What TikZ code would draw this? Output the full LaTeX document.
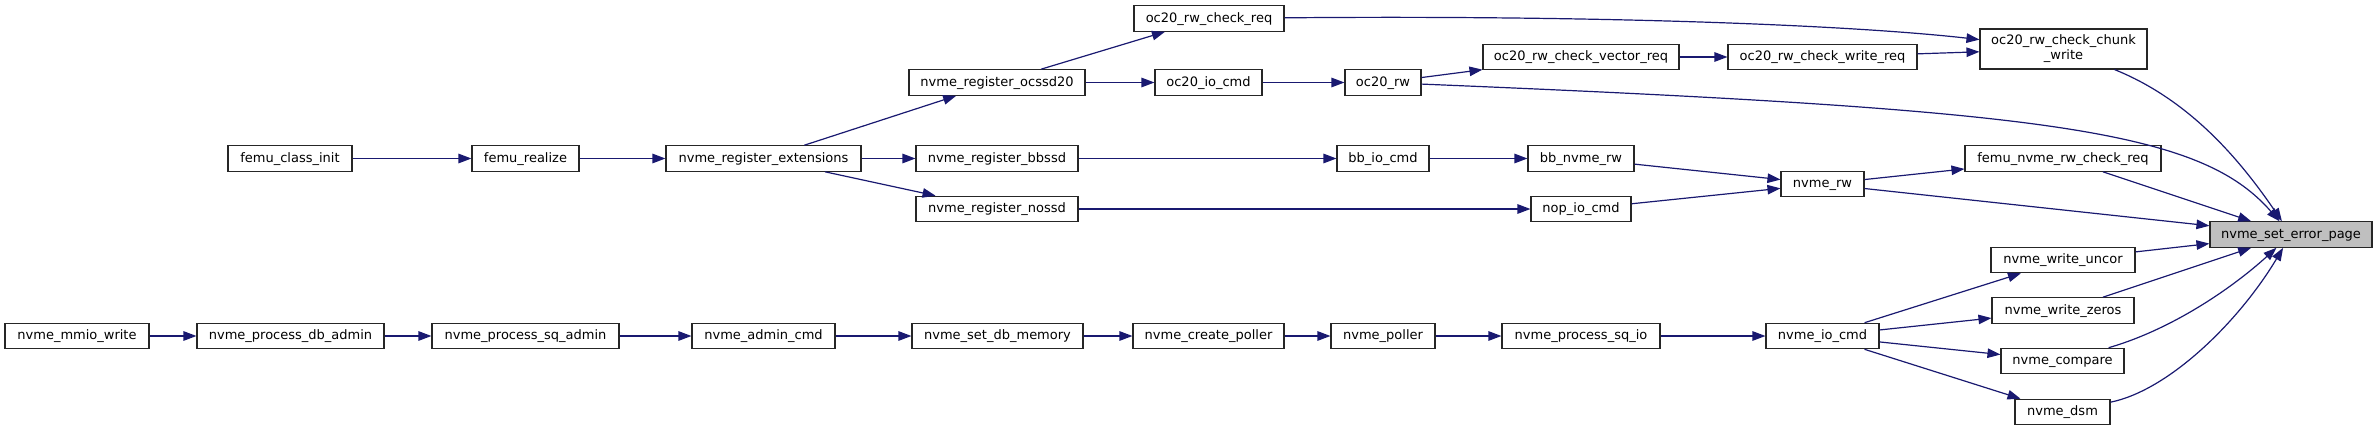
\documentclass[tikz,border=0pt]{standalone}
\usepackage{fontspec}
\setmainfont{DejaVu Sans}
\usetikzlibrary{arrows.meta}
\definecolor{edgeblue}{HTML}{191970}
\definecolor{rootgray}{HTML}{BFBFBF}

\begin{document}
\begin{tikzpicture}[x=1pt, y=-1pt,  % pixel units, y downwards
  font=\fontsize{13}{15}\selectfont,
  frame/.style={draw=black!85, line width=1.1pt, fill=white, align=center,
                inner sep=2pt, minimum height=25.5pt},
  box/.style={frame, text height=10pt, text depth=3pt},
  root/.style={box, fill=rootgray},
  arrow/.style={-{Triangle[length=13pt, width=9.5pt]}, line width=1.2pt, draw=edgeblue}
]
\useasboundingbox (0,0) rectangle (2377,431);

% --- Nodes (upper part) ---
\node[box, minimum width=124pt] (classinit) at (290,158.5)   {femu\_class\_init};
\node[box, minimum width=107pt] (realize)   at (525.5,158.5) {femu\_realize};
\node[box, minimum width=195pt] (regext)    at (763.5,158.5) {nvme\_register\_extensions};
\node[box, minimum width=176pt] (ocssd)     at (997,82.5)    {nvme\_register\_ocssd20};
\node[box, minimum width=162pt] (bbssd)     at (997,158.5)   {nvme\_register\_bbssd};
\node[box, minimum width=162pt] (nossd)     at (997,209)     {nvme\_register\_nossd};
\node[box, minimum width=150pt] (chkreq)    at (1209,18.5)   {oc20\_rw\_check\_req};
\node[box, minimum width=107pt] (iocmd)     at (1208.5,82.5) {oc20\_io\_cmd};
\node[box, minimum width=76pt]  (ocrw)      at (1383,82.5)   {oc20\_rw};
\node[box, minimum width=92pt]  (bbio)      at (1383,158.5)  {bb\_io\_cmd};
\node[box, minimum width=196pt] (vecreq)    at (1581,57)     {oc20\_rw\_check\_vector\_req};
\node[box, minimum width=106pt] (bbrw)      at (1581,158.5)  {bb\_nvme\_rw};
\node[box, minimum width=100pt] (nopio)     at (1581,209)    {nop\_io\_cmd};
\node[box, minimum width=189pt] (wrreq)     at (1822.5,57)   {oc20\_rw\_check\_write\_req};
\node[box, minimum width=83pt]  (nvmerw)    at (1822.5,184)  {nvme\_rw};
\node[frame, minimum width=167pt, minimum height=40pt] (chunk) at (2063.5,49) {oc20\_rw\_check\_chunk\\\_write};
\node[box, minimum width=196pt] (femuchk)   at (2063,158.5)  {femu\_nvme\_rw\_check\_req};
\node[box, minimum width=144pt] (uncor)     at (2063,260)    {nvme\_write\_uncor};
\node[box, minimum width=142pt] (zeros)     at (2063,310.5)  {nvme\_write\_zeros};
\node[box, minimum width=123pt] (compare)   at (2062.5,361)  {nvme\_compare};
\node[box, minimum width=95pt]  (dsm)       at (2062.5,412)  {nvme\_dsm};
\node[root, minimum width=162pt] (errpage)  at (2291,234.5)  {nvme\_set\_error\_page};

% --- Nodes (bottom row) ---
\node[box, minimum width=144pt] (mmio)      at (77,336)      {nvme\_mmio\_write};
\node[box, minimum width=187pt] (dbadmin)   at (290.5,336)   {nvme\_process\_db\_admin};
\node[box, minimum width=187pt] (sqadmin)   at (525.5,336)   {nvme\_process\_sq\_admin};
\node[box, minimum width=143pt] (admincmd)  at (763.5,336)   {nvme\_admin\_cmd};
\node[box, minimum width=171pt] (dbmem)     at (997.5,336)   {nvme\_set\_db\_memory};
\node[box, minimum width=151pt] (mkpoller)  at (1208.5,336)  {nvme\_create\_poller};
\node[box, minimum width=104pt] (poller)    at (1383,336)    {nvme\_poller};
\node[box, minimum width=158pt] (sqio)      at (1581,336)    {nvme\_process\_sq\_io};
\node[box, minimum width=113pt] (nvmeio)    at (1822.5,336)  {nvme\_io\_cmd};

% --- Calls (upper part) ---
\draw[arrow] (classinit) -- (realize);
\draw[arrow] (realize) -- (regext);
\draw[arrow] (regext) -- (ocssd);
\draw[arrow] (regext) -- (bbssd);
\draw[arrow] (regext) -- (nossd);
\draw[arrow] (ocssd) -- (chkreq);
\draw[arrow] (ocssd) -- (iocmd);
\draw[arrow] (iocmd) -- (ocrw);
\draw[arrow] (ocrw) -- (vecreq);
\draw[arrow] (vecreq) -- (wrreq);
\draw[arrow] (wrreq) -- (chunk);
\draw[arrow] (chkreq) .. controls (1600,15) and (1850,25) .. (chunk);
\draw[arrow] (bbssd) -- (bbio);
\draw[arrow] (bbio) -- (bbrw);
\draw[arrow] (bbrw) -- (nvmerw);
\draw[arrow] (nossd) -- (nopio);
\draw[arrow] (nopio) -- (nvmerw);
\draw[arrow] (nvmerw) -- (femuchk);

% --- Calls into nvme_set_error_page ---
\draw[arrow] (chunk) .. controls (2190,100) and (2240,160) .. (errpage);
\draw[arrow] (ocrw) .. controls (2050,110) and (2200,130) .. (errpage);
\draw[arrow] (femuchk) -- (errpage);
\draw[arrow] (nvmerw) -- (errpage);
\draw[arrow] (uncor) -- (errpage);
\draw[arrow] (zeros) -- (errpage);
\draw[arrow] (compare) .. controls (2170,330) and (2230,290) .. (errpage);
\draw[arrow] (dsm) .. controls (2170,390) and (2240,320) .. (errpage);

% --- Calls (bottom row) ---
\draw[arrow] (mmio) -- (dbadmin);
\draw[arrow] (dbadmin) -- (sqadmin);
\draw[arrow] (sqadmin) -- (admincmd);
\draw[arrow] (admincmd) -- (dbmem);
\draw[arrow] (dbmem) -- (mkpoller);
\draw[arrow] (mkpoller) -- (poller);
\draw[arrow] (poller) -- (sqio);
\draw[arrow] (sqio) -- (nvmeio);
\draw[arrow] (nvmeio) -- (uncor);
\draw[arrow] (nvmeio) -- (zeros);
\draw[arrow] (nvmeio) -- (compare);
\draw[arrow] (nvmeio) -- (dsm);

\end{tikzpicture}
\end{document}
